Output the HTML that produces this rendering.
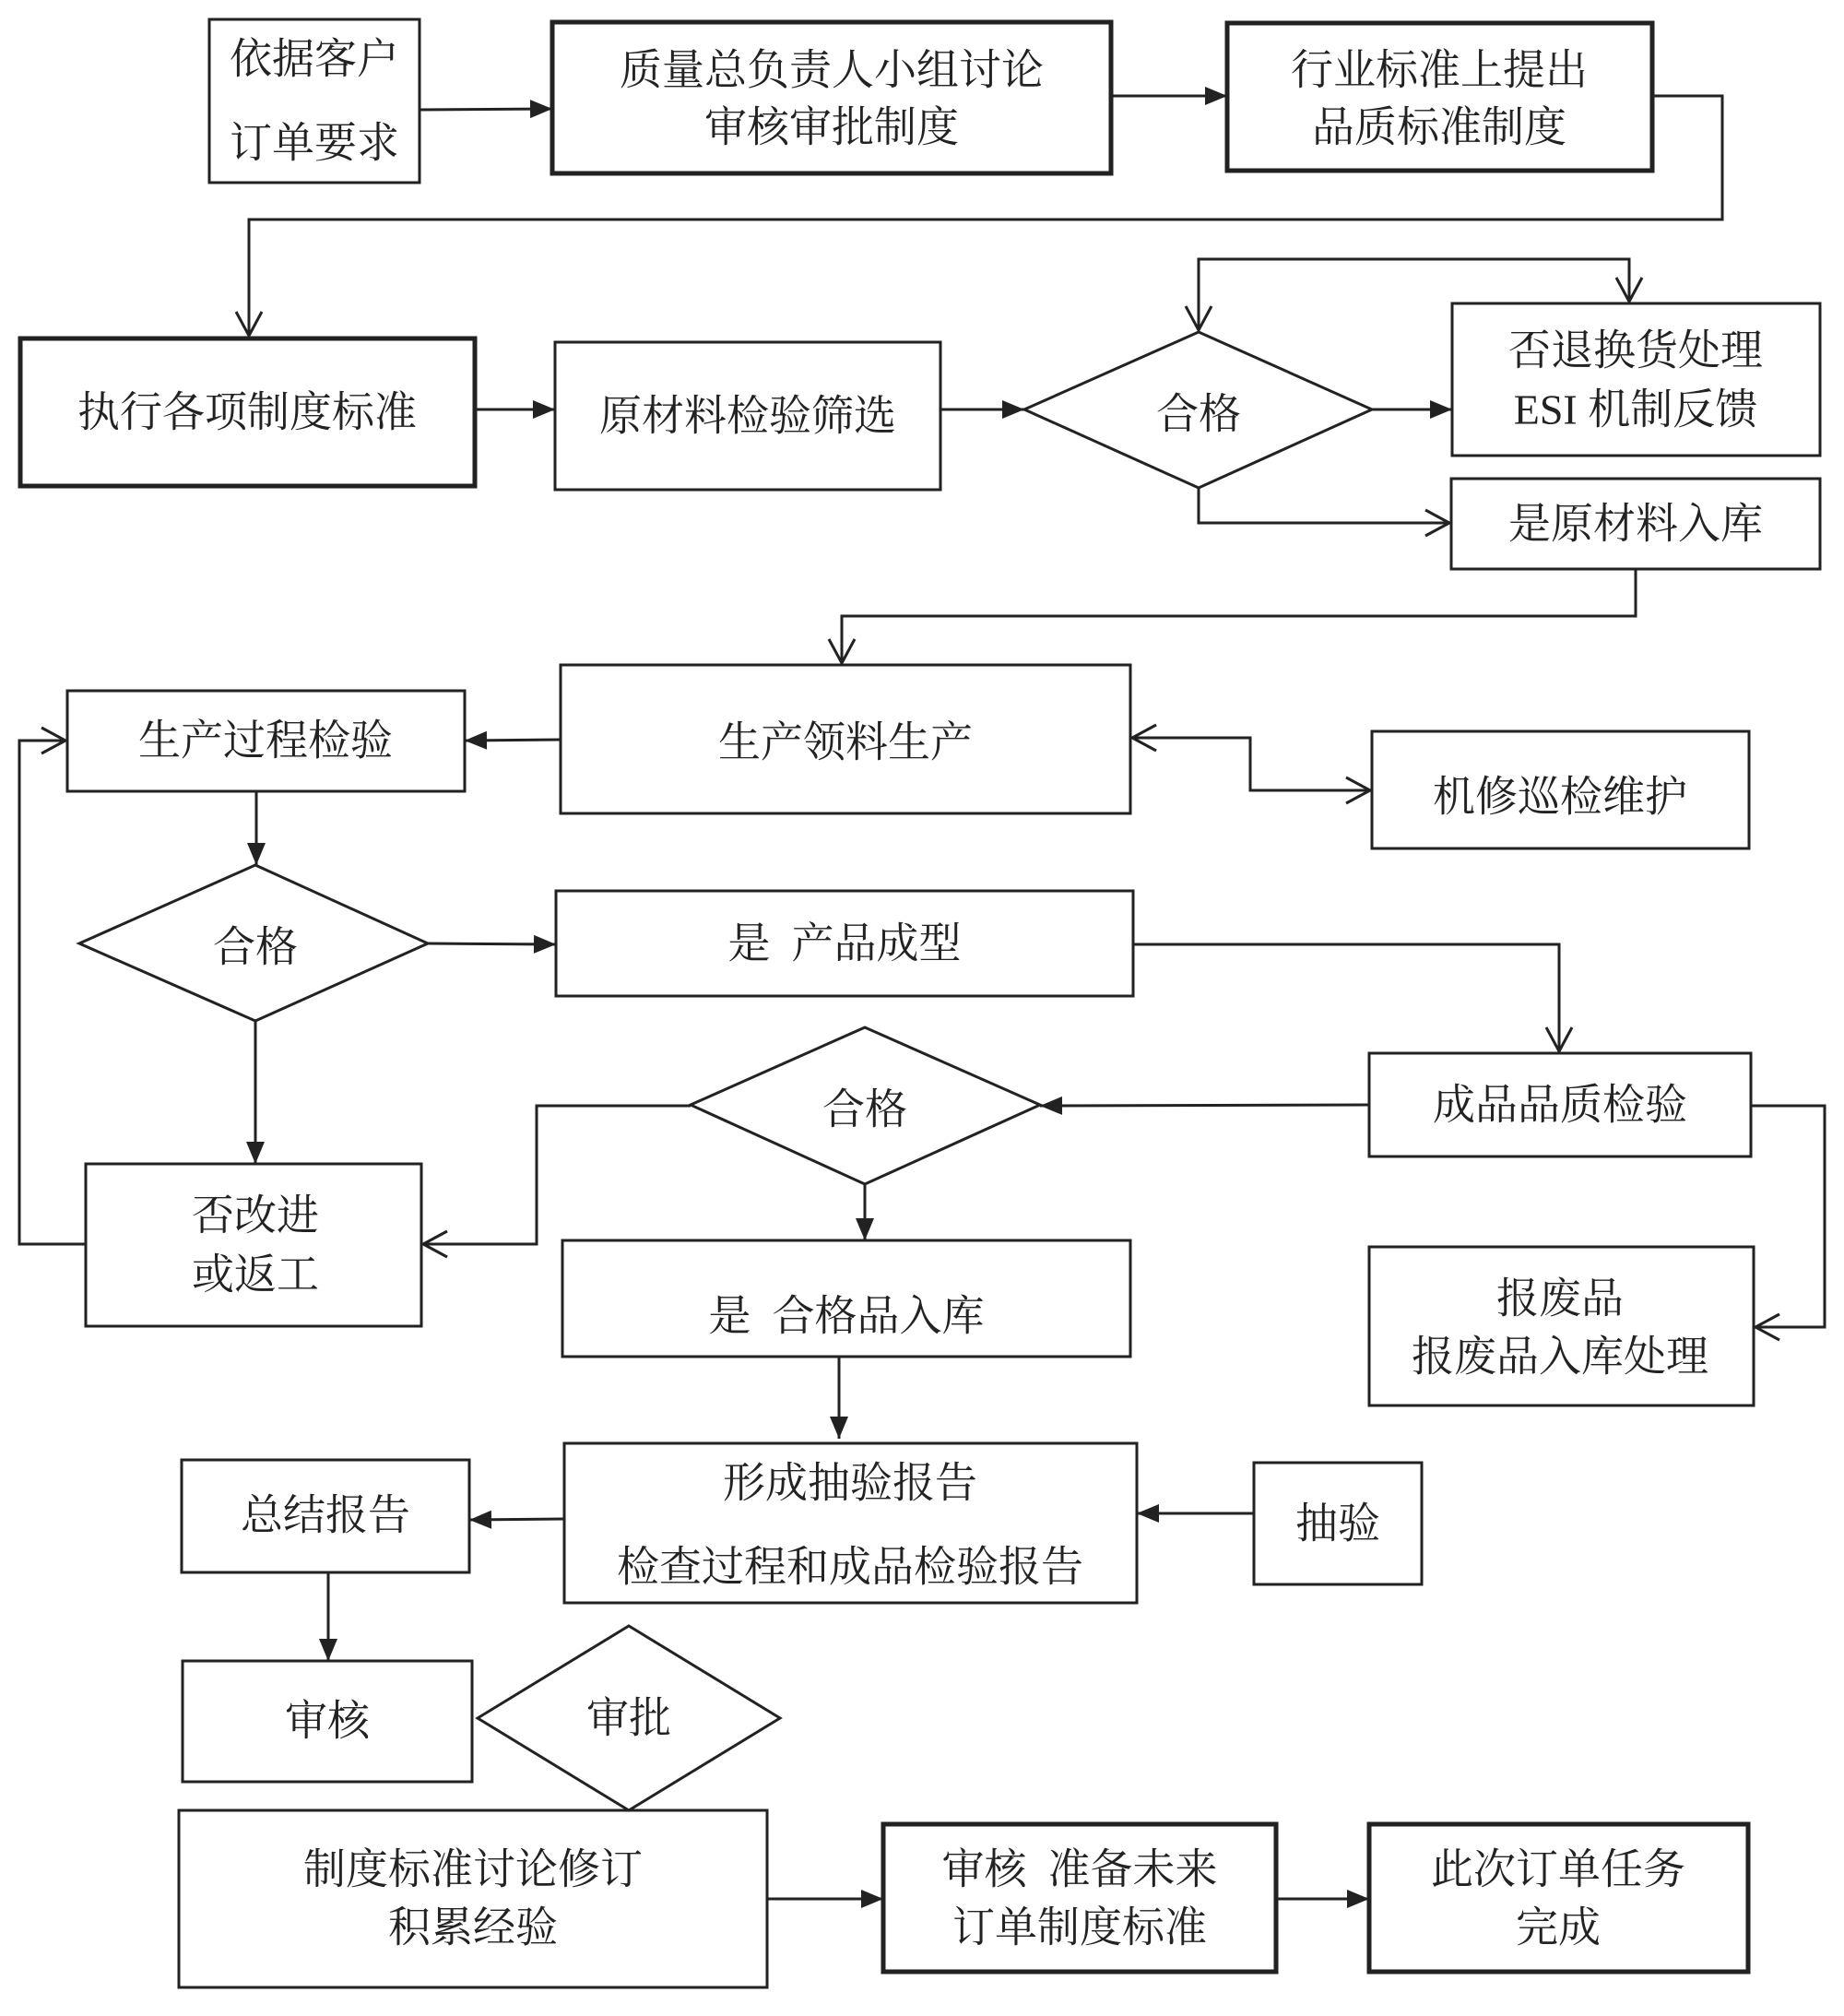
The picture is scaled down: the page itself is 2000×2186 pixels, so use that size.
<!DOCTYPE html>
<html><head><meta charset="utf-8"><style>
html,body{margin:0;padding:0;background:#fff}
svg text{font-family:"Liberation Serif","Noto Serif CJK SC","Noto Sans CJK SC",serif;font-size:46px;fill:#222;text-anchor:middle;dominant-baseline:central}
</style></head><body>
<svg width="2000" height="2181" viewBox="0 0 2000 2181" xmlns="http://www.w3.org/2000/svg">
<defs>
<marker id="f" markerUnits="userSpaceOnUse" markerWidth="30" markerHeight="30" refX="26" refY="12" orient="auto"><path d="M2,2 L26,12 L2,22 Z" fill="#222"/></marker>
<marker id="o" markerUnits="userSpaceOnUse" markerWidth="40" markerHeight="40" refX="30" refY="16" orient="auto"><path d="M4,2 L30,16 L4,30" fill="none" stroke="#222" stroke-width="3"/></marker>
</defs>
<g fill="none" stroke="#222">
<rect x="227" y="21" width="228" height="177" stroke-width="3"/>
<rect x="599" y="24" width="606" height="164" stroke-width="5"/>
<rect x="1331" y="25" width="461" height="160" stroke-width="5"/>
<rect x="22" y="367" width="493" height="160" stroke-width="5"/>
<rect x="602" y="371" width="418" height="160" stroke-width="3"/>
<polygon points="1111,444 1300,360 1488,444 1300,529" stroke-width="3"/>
<rect x="1575" y="329" width="399" height="165" stroke-width="3"/>
<rect x="1574" y="519" width="400" height="98" stroke-width="3"/>
<rect x="608" y="721" width="618" height="161" stroke-width="3"/>
<rect x="73" y="749" width="431" height="109" stroke-width="3"/>
<rect x="1488" y="793" width="409" height="127" stroke-width="3"/>
<polygon points="86,1023 277,938 464,1023 277,1107" stroke-width="3"/>
<rect x="603" y="966" width="626" height="114" stroke-width="3"/>
<rect x="1485" y="1142" width="414" height="112" stroke-width="3"/>
<polygon points="749,1198 938,1114 1128,1198 938,1284" stroke-width="3"/>
<rect x="93" y="1262" width="364" height="176" stroke-width="3"/>
<rect x="610" y="1345" width="616" height="126" stroke-width="3"/>
<rect x="1485" y="1352" width="417" height="172" stroke-width="3"/>
<rect x="612" y="1565" width="621" height="173" stroke-width="3"/>
<rect x="1360" y="1586" width="182" height="132" stroke-width="3"/>
<rect x="197" y="1583" width="312" height="122" stroke-width="3"/>
<rect x="198" y="1801" width="314" height="131" stroke-width="3"/>
<polygon points="518,1863 682,1763 846,1863 682,1963" stroke-width="3"/>
<rect x="194" y="1963" width="638" height="192" stroke-width="3"/>
<rect x="958" y="1978" width="426" height="160" stroke-width="5"/>
<rect x="1485" y="1978" width="411" height="160" stroke-width="5"/>

<g stroke-width="3">
<path d="M455,119 L599,118" marker-end="url(#f)"/>
<path d="M1205,104 L1331,104" marker-end="url(#f)"/>
<path d="M1792,104 L1868,104 L1868,238 L270,238 L270,364" marker-end="url(#o)"/>
<path d="M515,444 L602,444" marker-end="url(#f)"/>
<path d="M1020,444 L1111,444" marker-end="url(#f)"/>
<path d="M1488,444 L1575,444" marker-end="url(#f)"/>
<path d="M1300,281 L1767,281 L1767,327" marker-end="url(#o)"/>
<path d="M1767,281 L1300,281 L1300,358" marker-end="url(#o)"/>
<path d="M1300,529 L1300,567 L1572,567" marker-end="url(#o)"/>
<path d="M1774,617 L1774,668 L913,668 L913,719" marker-end="url(#o)"/>
<path d="M608,802 L504,803" marker-end="url(#f)"/>
<path d="M1356,800 L1356,857 L1486,857" marker-end="url(#o)"/>
<path d="M1356,857 L1356,800 L1228,800" marker-end="url(#o)"/>
<path d="M278,858 L278,938" marker-end="url(#f)"/>
<path d="M464,1023 L603,1024" marker-end="url(#f)"/>
<path d="M1229,1024 L1691,1024 L1691,1140" marker-end="url(#o)"/>
<path d="M1485,1198 L1128,1199" marker-end="url(#f)"/>
<path d="M277,1107 L277,1262" marker-end="url(#f)"/>
<path d="M749,1199 L582,1199 L582,1349 L459,1349" marker-end="url(#o)"/>
<path d="M93,1349 L21,1349 L21,803 L71,803" marker-end="url(#o)"/>
<path d="M938,1284 L938,1345" marker-end="url(#f)"/>
<path d="M1899,1199 L1979,1199 L1979,1439 L1904,1439" marker-end="url(#o)"/>
<path d="M910,1471 L910,1560" marker-end="url(#f)"/>
<path d="M1360,1641 L1233,1641" marker-end="url(#f)"/>
<path d="M612,1647 L509,1648" marker-end="url(#f)"/>
<path d="M356,1705 L356,1801" marker-end="url(#f)"/>
<path d="M832,2059 L958,2059" marker-end="url(#f)"/>
<path d="M1384,2059 L1485,2059" marker-end="url(#f)"/>
</g>
</g>
<text x="341" y="64">依据客户</text>
<text x="341" y="155">订单要求</text>
<text x="902" y="76">质量总负责人小组讨论</text>
<text x="902" y="138">审核审批制度</text>
<text x="1561" y="76">行业标准上提出</text>
<text x="1561" y="138">品质标准制度</text>
<text x="268" y="447">执行各项制度标准</text>
<text x="811" y="451">原材料检验筛选</text>
<text x="1300" y="449">合格</text>
<text x="1774" y="380">否退换货处理</text>
<text x="1774" y="444">ESI 机制反馈</text>
<text x="1774" y="568">是原材料入库</text>
<text x="917" y="805">生产领料生产</text>
<text x="288" y="803">生产过程检验</text>
<text x="1692" y="864">机修巡检维护</text>
<text x="277" y="1027">合格</text>
<text x="916" y="1023">是&#160;&#160;产品成型</text>
<text x="1692" y="1198">成品品质检验</text>
<text x="938" y="1203">合格</text>
<text x="277" y="1318">否改进</text>
<text x="277" y="1382">或返工</text>
<text x="918" y="1427">是&#160;&#160;合格品入库</text>
<text x="1692" y="1408">报废品</text>
<text x="1692" y="1471">报废品入库处理</text>
<text x="922" y="1608">形成抽验报告</text>
<text x="922" y="1699">检查过程和成品检验报告</text>
<text x="1451" y="1652">抽验</text>
<text x="353" y="1643">总结报告</text>
<text x="355" y="1866">审核</text>
<text x="682" y="1863">审批</text>
<text x="513" y="2027">制度标准讨论修订</text>
<text x="513" y="2090">积累经验</text>
<text x="1171" y="2027">审核&#160;&#160;准备未来</text>
<text x="1171" y="2090">订单制度标准</text>
<text x="1690" y="2027">此次订单任务</text>
<text x="1690" y="2090">完成</text>
</svg>
</body></html>
